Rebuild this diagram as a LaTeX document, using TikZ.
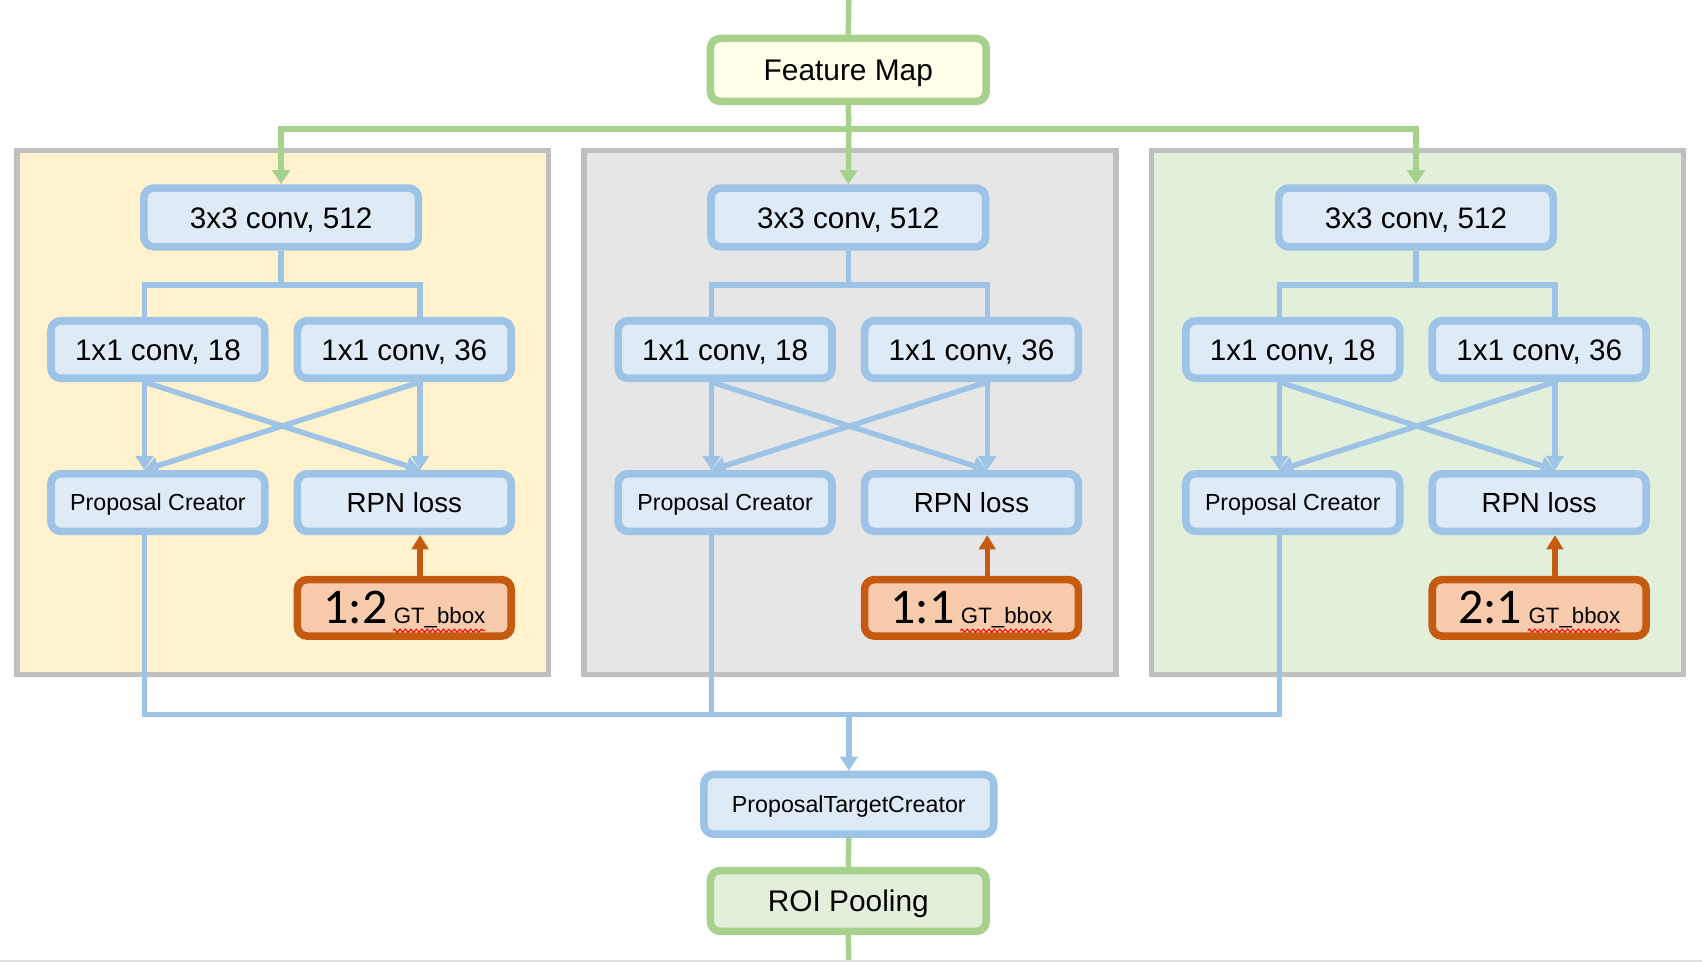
\documentclass[tikz,border=0pt]{standalone}
\usepackage{fontspec}
\setmainfont{Liberation Sans}
\newfontfamily\ratiofont{Carlito}
\usepackage{tikz}
\usetikzlibrary{arrows.meta,decorations.pathmorphing}

\definecolor{boxblue}{HTML}{9DC3E6}
\definecolor{boxbluefill}{HTML}{DEEBF7}
\definecolor{boxgreen}{HTML}{A9D18E}
\definecolor{roifill}{HTML}{E2EFDA}
\definecolor{fmfill}{HTML}{FFFFEA}
\definecolor{gtorange}{HTML}{C55A11}
\definecolor{gtfill}{HTML}{F8CBAD}
\definecolor{panelgray}{HTML}{BFBFBF}
\definecolor{panelA}{HTML}{FFF2CC}
\definecolor{panelB}{HTML}{E6E6E6}
\definecolor{panelC}{HTML}{E2EFDA}

\tikzset{
	blockbox/.style={draw=boxblue, fill=boxbluefill, line width=7pt, rounded corners=9pt, inner sep=0pt, minimum width=197pt, minimum height=53pt, text height=19.5pt, text depth=0pt, font=\fontsize{27.3}{32}\selectfont},
	smalltext/.style={text height=15.3pt, font=\fontsize{21.4}{26}\selectfont},
	greenbox/.style={blockbox, draw=boxgreen, minimum width=254pt, minimum height=56pt, text height=19.7pt, font=\fontsize{27.5}{32}\selectfont},
	gtbox/.style={blockbox, draw=gtorange, fill=gtfill, minimum height=52pt, text height=29pt},
	panel/.style={draw=panelgray, line width=5pt},
	flow/.style={draw=boxblue, line width=5pt},
	flowarrow/.style={flow, -{Triangle[width=16pt,length=13pt]}},
	feed/.style={draw=boxgreen, line width=5pt},
	feedarrow/.style={feed, -{Triangle[width=16pt,length=13pt]}},
	gtarrow/.style={draw=gtorange, line width=5pt, -{Triangle[width=15pt,length=13pt]}},
	wavy/.style={draw=red, line width=1pt, decorate, decoration={snake, segment length=5pt, amplitude=1.4pt}}
}

\begin{document}
\begin{tikzpicture}[x=1pt,y=-1pt]
	\useasboundingbox (0,0) rectangle (1568,886);

	\node[greenbox, fill=fmfill, minimum height=58pt] (fm) at (781.5,64.4) {Feature Map};
	\draw[feed] (782,0) -- (fm.north);

		%Panels
		\foreach \o/\pc/\i/\ratio in {0/panelA/1/{1:2}, 522.5/panelB/2/{1:1}, 1045.5/panelC/3/{2:1}}{
			\draw[panel, fill=\pc] (\o+15.5,138.5) rectangle (\o+505.5,621.5);
			\coordinate (l-\i) at (\o+133,262.5);
			\coordinate (r-\i) at (\o+387,262.5);
			\node[blockbox, minimum width=253pt, minimum height=54pt] (conv3-\i) at (\o+259,200.3) {3x3 conv, 512};
			\node[blockbox] (c18-\i) at (\o+145.5,322) {1x1 conv, 18};
			\node[blockbox] (c36-\i) at (\o+372.5,322) {1x1 conv, 36};
			\node[blockbox, smalltext] (prop-\i) at (\o+145.5,463) {Proposal Creator};
			\node[blockbox, text height=18.3pt, font=\fontsize{25.5}{30}\selectfont] (rpn-\i) at (\o+372.5,463) {RPN loss};
			\node[gtbox] (gt-\i) at (\o+372.5,560) {{\ratiofont\fontsize{46}{50}\selectfont \ratio}\hspace{6pt}{\fontsize{20.5}{24}\selectfont GT\_bbox}};
			\draw[wavy] (\o+362,581) -- (\o+447,581);

			\draw[flow] (conv3-\i.south) -- (conv3-\i.south |- l-\i);
			\draw[flow] (l-\i |- c18-\i.north) -- (l-\i) -- (r-\i) -- (r-\i |- c36-\i.north);
			\draw[flowarrow] (l-\i |- c18-\i.south) -- (l-\i |- prop-\i.north);
			\draw[flowarrow] (l-\i |- c18-\i.south) -- (r-\i |- rpn-\i.north);
			\draw[flowarrow] (r-\i |- c36-\i.south) -- (l-\i |- prop-\i.north);
			\draw[flowarrow] (r-\i |- c36-\i.south) -- (r-\i |- rpn-\i.north);
			\draw[gtarrow] (r-\i |- gt-\i.north) -- (r-\i |- rpn-\i.south);
		}

	%Feature map to the three heads
	\coordinate (top) at (782,119);
	\draw[feed] (fm.south) -- (top);
	\draw[feedarrow] (top) -- (conv3-2.north);
	\draw[feedarrow] (top) -| (conv3-1.north);
	\draw[feedarrow] (top) -| (conv3-3.north);

	%Proposals collected
	\coordinate (bus) at (782,658.5);
	\draw[flow] (l-1 |- prop-1.south) -- (l-1 |- bus) -- (l-3 |- bus) -- (l-3 |- prop-3.south);
	\draw[flow] (l-2 |- prop-2.south) -- (l-2 |- bus);

	\node[blockbox, smalltext, minimum width=267pt, minimum height=55pt] (ptc) at (782,741) {ProposalTargetCreator};
	\draw[flowarrow] (bus) -- (ptc.north);

	\node[greenbox, fill=roifill] (roi) at (781.5,830) {ROI Pooling};
	\draw[feed] (ptc.south) -- (roi.north);
	\draw[feed] (roi.south) -- (782,886);

	\draw[line width=2pt, black!12] (0,885) -- (1568,885);
\end{tikzpicture}
\end{document}
